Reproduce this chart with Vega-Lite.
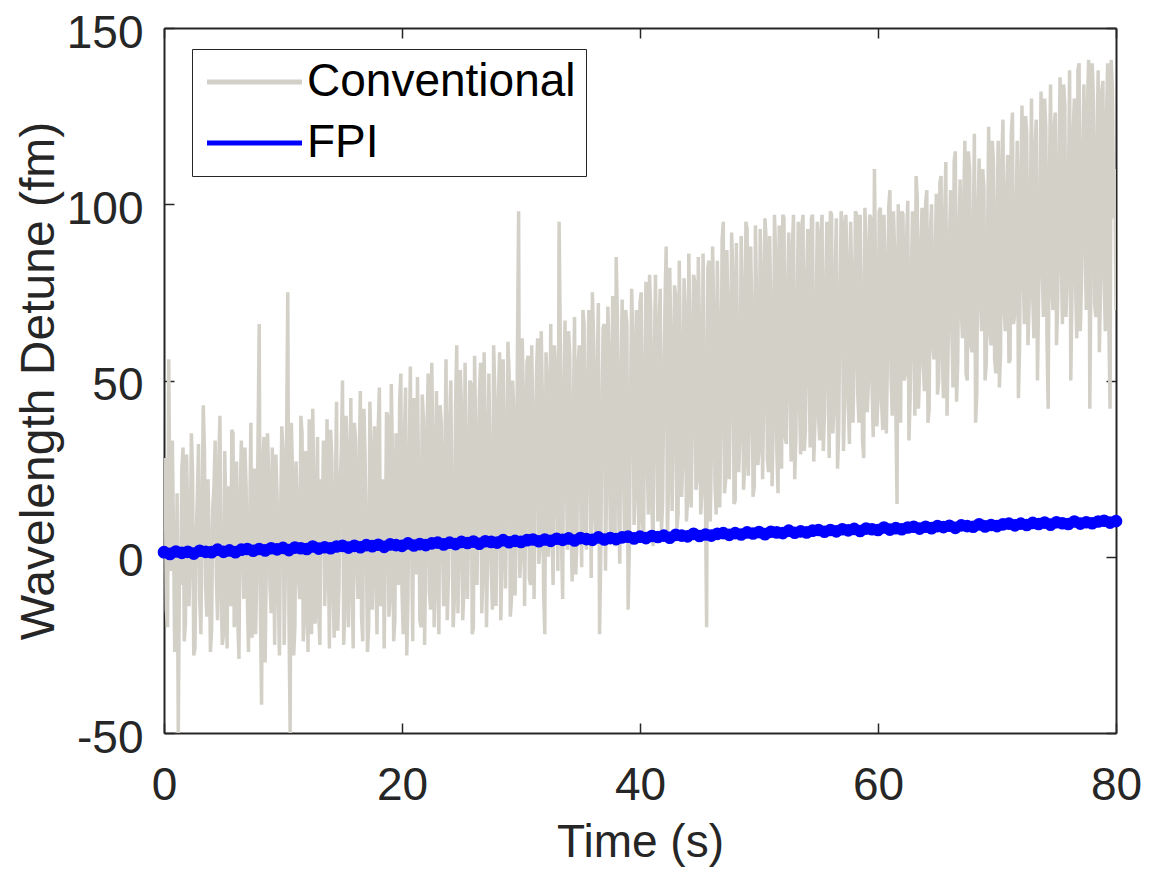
{
"$schema": "https://vega.github.io/schema/vega-lite/v6.json",
"width": 952, "height": 705,
"autosize": {"type": "none"},
"padding": {"left": 164, "top": 28, "right": 36, "bottom": 141},
"background": "white",
"config": {
  "view": {"stroke": null},
  "font": "Liberation Sans",
  "axis": {"labelFont": "Liberation Sans", "titleFont": "Liberation Sans", "labelFontSize": 46, "titleFontSize": 46, "labelColor": "#262626", "titleColor": "#262626", "titleFontWeight": "normal", "grid": false, "domain": true, "domainColor": "#262626", "domainWidth": 2, "tickColor": "#262626", "tickWidth": 1.5, "tickSize": -10, "labelFlush": false, "labelOverlap": false},
  "legend": {"labelFont": "Liberation Sans"}
},
"datasets": {
"conv": [
{"t":0,"v":15},{"t":0.2,"v":-15},{"t":0.4,"v":56},{"t":0.6,"v":-4},{"t":0.8,"v":6},{"t":1,"v":-23},{"t":1.2,"v":-50},{"t":1.4,"v":-8},{"t":1.6,"v":31},{"t":1.8,"v":-19},{"t":2,"v":9},{"t":2.2,"v":0},{"t":2.4,"v":24},{"t":2.6,"v":-26},{"t":2.8,"v":17},{"t":3,"v":-12},{"t":3.2,"v":12},{"t":3.4,"v":30},{"t":3.6,"v":-17},{"t":3.8,"v":4},{"t":4,"v":-21},{"t":4.2,"v":20},{"t":4.4,"v":-6},{"t":4.6,"v":26},{"t":4.8,"v":-10},
{"t":5,"v":-22},{"t":5.2,"v":13},{"t":5.4,"v":20},{"t":5.6,"v":-14},{"t":5.8,"v":35},{"t":6,"v":0},{"t":6.2,"v":-18},{"t":6.4,"v":16},{"t":6.6,"v":4},{"t":6.8,"v":31},{"t":7,"v":-11},{"t":7.2,"v":9},{"t":7.4,"v":-23},{"t":7.6,"v":25},{"t":7.8,"v":-5},{"t":8,"v":66},{"t":8.2,"v":-42},{"t":8.4,"v":34},{"t":8.6,"v":-1},{"t":8.8,"v":23},{"t":9,"v":-16},{"t":9.2,"v":7},{"t":9.4,"v":29},{"t":9.6,"v":-9},{"t":9.8,"v":12},
{"t":10,"v":30},{"t":10.2,"v":-4},{"t":10.4,"v":75},{"t":10.6,"v":-50},{"t":10.8,"v":24},{"t":11,"v":-20},{"t":11.2,"v":13},{"t":11.4,"v":-12},{"t":11.6,"v":35},{"t":11.8,"v":-18},{"t":12,"v":8},{"t":12.2,"v":39},{"t":12.4,"v":-22},{"t":12.6,"v":18},{"t":12.8,"v":3},{"t":13,"v":-16},{"t":13.2,"v":22},{"t":13.4,"v":33},{"t":13.6,"v":-3},{"t":13.8,"v":5},{"t":14,"v":36},{"t":14.2,"v":-10},{"t":14.4,"v":17},{"t":14.6,"v":-21},{"t":14.8,"v":20},
{"t":15,"v":50},{"t":15.2,"v":-15},{"t":15.4,"v":30},{"t":15.6,"v":8},{"t":15.8,"v":-8},{"t":16,"v":38},{"t":16.2,"v":-2},{"t":16.4,"v":25},{"t":16.6,"v":-17},{"t":16.8,"v":42},{"t":17,"v":4},{"t":17.2,"v":-20},{"t":17.4,"v":30},{"t":17.6,"v":15},{"t":17.8,"v":-6},{"t":18,"v":36},{"t":18.2,"v":-14},{"t":18.4,"v":22},{"t":18.6,"v":1},{"t":18.8,"v":40},{"t":19,"v":-12},{"t":19.2,"v":28},{"t":19.4,"v":-18},{"t":19.6,"v":19},{"t":19.8,"v":44},
{"t":20,"v":-10},{"t":20.2,"v":34},{"t":20.4,"v":-28},{"t":20.6,"v":26},{"t":20.8,"v":8},{"t":21,"v":45},{"t":21.2,"v":-5},{"t":21.4,"v":20},{"t":21.6,"v":-20},{"t":21.8,"v":39},{"t":22,"v":2},{"t":22.2,"v":52},{"t":22.4,"v":-15},{"t":22.6,"v":30},{"t":22.8,"v":11},{"t":23,"v":-8},{"t":23.2,"v":43},{"t":23.4,"v":4},{"t":23.6,"v":27},{"t":23.8,"v":-18},{"t":24,"v":38},{"t":24.2,"v":15},{"t":24.4,"v":-12},{"t":24.6,"v":60},{"t":24.8,"v":0},
{"t":25,"v":42},{"t":25.2,"v":-10},{"t":25.4,"v":28},{"t":25.6,"v":8},{"t":25.8,"v":49},{"t":26,"v":-20},{"t":26.2,"v":33},{"t":26.4,"v":14},{"t":26.6,"v":55},{"t":26.8,"v":-6},{"t":27,"v":36},{"t":27.2,"v":2},{"t":27.4,"v":25},{"t":27.6,"v":-15},{"t":27.8,"v":47},{"t":28,"v":10},{"t":28.2,"v":58},{"t":28.4,"v":-2},{"t":28.6,"v":30},{"t":28.8,"v":18},{"t":29,"v":52},{"t":29.2,"v":-12},{"t":29.4,"v":40},{"t":29.6,"v":6},{"t":29.8,"v":98},
{"t":30,"v":0},{"t":30.2,"v":45},{"t":30.4,"v":14},{"t":30.6,"v":57},{"t":30.8,"v":-8},{"t":31,"v":38},{"t":31.2,"v":20},{"t":31.4,"v":62},{"t":31.6,"v":3},{"t":31.8,"v":44},{"t":32,"v":-22},{"t":32.2,"v":50},{"t":32.4,"v":26},{"t":32.6,"v":8},{"t":32.8,"v":60},{"t":33,"v":18},{"t":33.2,"v":95},{"t":33.4,"v":5},{"t":33.6,"v":47},{"t":33.8,"v":28},{"t":34,"v":64},{"t":34.2,"v":10},{"t":34.4,"v":40},{"t":34.6,"v":-5},{"t":34.8,"v":55},
{"t":35,"v":20},{"t":35.2,"v":70},{"t":35.4,"v":8},{"t":35.6,"v":48},{"t":35.8,"v":33},{"t":36,"v":75},{"t":36.2,"v":12},{"t":36.4,"v":53},{"t":36.6,"v":-22},{"t":36.8,"v":40},{"t":37,"v":66},{"t":37.2,"v":22},{"t":37.4,"v":58},{"t":37.6,"v":5},{"t":37.8,"v":45},{"t":38,"v":85},{"t":38.2,"v":15},{"t":38.4,"v":50},{"t":38.6,"v":28},{"t":38.8,"v":70},{"t":39,"v":-15},{"t":39.2,"v":42},{"t":39.4,"v":62},{"t":39.6,"v":18},{"t":39.8,"v":55},
{"t":40,"v":72},{"t":40.2,"v":10},{"t":40.4,"v":48},{"t":40.6,"v":30},{"t":40.8,"v":80},{"t":41,"v":14},{"t":41.2,"v":56},{"t":41.4,"v":38},{"t":41.6,"v":66},{"t":41.8,"v":7},{"t":42,"v":50},{"t":42.2,"v":88},{"t":42.4,"v":20},{"t":42.6,"v":60},{"t":42.8,"v":35},{"t":43,"v":74},{"t":43.2,"v":12},{"t":43.4,"v":55},{"t":43.6,"v":28},{"t":43.8,"v":70},{"t":44,"v":16},{"t":44.2,"v":62},{"t":44.4,"v":40},{"t":44.6,"v":78},{"t":44.8,"v":22},
{"t":45,"v":64},{"t":45.2,"v":18},{"t":45.4,"v":55},{"t":45.6,"v":-20},{"t":45.8,"v":84},{"t":46,"v":30},{"t":46.2,"v":70},{"t":46.4,"v":12},{"t":46.6,"v":60},{"t":46.8,"v":40},{"t":47,"v":95},{"t":47.2,"v":22},{"t":47.4,"v":66},{"t":47.6,"v":48},{"t":47.8,"v":80},{"t":48,"v":16},{"t":48.2,"v":58},{"t":48.4,"v":35},{"t":48.6,"v":76},{"t":48.8,"v":26},{"t":49,"v":93},{"t":49.2,"v":42},{"t":49.4,"v":68},{"t":49.6,"v":20},{"t":49.8,"v":72},
{"t":50,"v":30},{"t":50.2,"v":80},{"t":50.4,"v":45},{"t":50.6,"v":90},{"t":50.8,"v":24},{"t":51,"v":66},{"t":51.2,"v":38},{"t":51.4,"v":86},{"t":51.6,"v":18},{"t":51.8,"v":62},{"t":52,"v":97},{"t":52.2,"v":34},{"t":52.4,"v":75},{"t":52.6,"v":50},{"t":52.8,"v":88},{"t":53,"v":22},{"t":53.2,"v":70},{"t":53.4,"v":44},{"t":53.6,"v":94},{"t":53.8,"v":30},{"t":54,"v":78},{"t":54.2,"v":55},{"t":54.4,"v":96},{"t":54.6,"v":27},{"t":54.8,"v":68},
{"t":55,"v":40},{"t":55.2,"v":92},{"t":55.4,"v":30},{"t":55.6,"v":75},{"t":55.8,"v":52},{"t":56,"v":98},{"t":56.2,"v":35},{"t":56.4,"v":80},{"t":56.6,"v":25},{"t":56.8,"v":70},{"t":57,"v":95},{"t":57.2,"v":45},{"t":57.4,"v":84},{"t":57.6,"v":32},{"t":57.8,"v":77},{"t":58,"v":56},{"t":58.2,"v":97},{"t":58.4,"v":38},{"t":58.6,"v":72},{"t":58.8,"v":28},{"t":59,"v":88},{"t":59.2,"v":50},{"t":59.4,"v":96},{"t":59.6,"v":34},{"t":59.8,"v":79},
{"t":60,"v":45},{"t":60.2,"v":99},{"t":60.4,"v":36},{"t":60.6,"v":82},{"t":60.8,"v":58},{"t":61,"v":104},{"t":61.2,"v":40},{"t":61.4,"v":86},{"t":61.6,"v":15},{"t":61.8,"v":76},{"t":62,"v":98},{"t":62.2,"v":50},{"t":62.4,"v":90},{"t":62.6,"v":33},{"t":62.8,"v":80},{"t":63,"v":62},{"t":63.2,"v":108},{"t":63.4,"v":42},{"t":63.6,"v":88},{"t":63.8,"v":55},{"t":64,"v":100},{"t":64.2,"v":38},{"t":64.4,"v":92},{"t":64.6,"v":60},{"t":64.8,"v":84},
{"t":65,"v":46},{"t":65.2,"v":106},{"t":65.4,"v":58},{"t":65.6,"v":96},{"t":65.8,"v":40},{"t":66,"v":88},{"t":66.2,"v":66},{"t":66.4,"v":112},{"t":66.6,"v":44},{"t":66.8,"v":92},{"t":67,"v":70},{"t":67.2,"v":100},{"t":67.4,"v":52},{"t":67.6,"v":115},{"t":67.8,"v":60},{"t":68,"v":90},{"t":68.2,"v":38},{"t":68.4,"v":98},{"t":68.6,"v":75},{"t":68.8,"v":110},{"t":69,"v":50},{"t":69.2,"v":86},{"t":69.4,"v":64},{"t":69.6,"v":118},{"t":69.8,"v":56},
{"t":70,"v":96},{"t":70.2,"v":48},{"t":70.4,"v":112},{"t":70.6,"v":70},{"t":70.8,"v":102},{"t":71,"v":55},{"t":71.2,"v":120},{"t":71.4,"v":66},{"t":71.6,"v":94},{"t":71.8,"v":45},{"t":72,"v":108},{"t":72.2,"v":80},{"t":72.4,"v":125},{"t":72.6,"v":60},{"t":72.8,"v":100},{"t":73,"v":74},{"t":73.2,"v":116},{"t":73.4,"v":50},{"t":73.6,"v":98},{"t":73.8,"v":82},{"t":74,"v":130},{"t":74.2,"v":62},{"t":74.4,"v":106},{"t":74.6,"v":77},{"t":74.8,"v":122},
{"t":75,"v":60},{"t":75.2,"v":110},{"t":75.4,"v":85},{"t":75.6,"v":134},{"t":75.8,"v":68},{"t":76,"v":104},{"t":76.2,"v":50},{"t":76.4,"v":120},{"t":76.6,"v":78},{"t":76.8,"v":138},{"t":77,"v":64},{"t":77.2,"v":112},{"t":77.4,"v":90},{"t":77.6,"v":128},{"t":77.8,"v":42},{"t":78,"v":140},{"t":78.2,"v":72},{"t":78.4,"v":116},{"t":78.6,"v":58},{"t":78.8,"v":132},{"t":79,"v":80},{"t":79.2,"v":124},{"t":79.4,"v":66},{"t":79.6,"v":141},{"t":79.8,"v":96},{"t":80,"v":70},
{"t":0.1,"v":28},{"t":0.3,"v":-20},{"t":0.5,"v":10},{"t":0.7,"v":33},{"t":0.9,"v":-27},{"t":1.1,"v":18},{"t":1.3,"v":-3},{"t":1.5,"v":25},{"t":1.7,"v":-24},{"t":1.9,"v":29},{"t":2.1,"v":-14},{"t":2.3,"v":35},{"t":2.5,"v":-28},{"t":2.7,"v":5},{"t":2.9,"v":32},{"t":3.1,"v":-22},{"t":3.3,"v":43},{"t":3.5,"v":-9},{"t":3.7,"v":22},{"t":3.9,"v":-27},{"t":4.1,"v":14},{"t":4.3,"v":33},{"t":4.5,"v":-18},{"t":4.7,"v":40},{"t":4.9,"v":-25},
{"t":5.1,"v":30},{"t":5.3,"v":-26},{"t":5.5,"v":8},{"t":5.7,"v":36},{"t":5.9,"v":-20},{"t":6.1,"v":27},{"t":6.3,"v":-29},{"t":6.5,"v":33},{"t":6.7,"v":-12},{"t":6.9,"v":20},{"t":7.1,"v":-27},{"t":7.3,"v":38},{"t":7.5,"v":2},{"t":7.7,"v":-22},{"t":7.9,"v":33},{"t":8.1,"v":-15},{"t":8.3,"v":27},{"t":8.5,"v":-30},{"t":8.7,"v":35},{"t":8.9,"v":-8},{"t":9.1,"v":31},{"t":9.3,"v":-25},{"t":9.5,"v":18},{"t":9.7,"v":-28},{"t":9.9,"v":37},
{"t":10.1,"v":-25},{"t":10.3,"v":32},{"t":10.5,"v":-17},{"t":10.7,"v":38},{"t":10.9,"v":-28},{"t":11.1,"v":27},{"t":11.3,"v":-6},{"t":11.5,"v":40},{"t":11.7,"v":-24},{"t":11.9,"v":30},{"t":12.1,"v":-27},{"t":12.3,"v":15},{"t":12.5,"v":42},{"t":12.7,"v":-19},{"t":12.9,"v":34},{"t":13.1,"v":-25},{"t":13.3,"v":10},{"t":13.5,"v":-14},{"t":13.7,"v":39},{"t":13.9,"v":-26},{"t":14.1,"v":28},{"t":14.3,"v":-23},{"t":14.5,"v":44},{"t":14.7,"v":-9},{"t":14.9,"v":30},
{"t":15.1,"v":-25},{"t":15.3,"v":40},{"t":15.5,"v":-20},{"t":15.7,"v":45},{"t":15.9,"v":-26},{"t":16.1,"v":33},{"t":16.3,"v":-12},{"t":16.5,"v":47},{"t":16.7,"v":-24},{"t":16.9,"v":28},{"t":17.1,"v":-27},{"t":17.3,"v":44},{"t":17.5,"v":-15},{"t":17.7,"v":37},{"t":17.9,"v":-22},{"t":18.1,"v":48},{"t":18.3,"v":0},{"t":18.5,"v":-26},{"t":18.7,"v":41},{"t":18.9,"v":-17},{"t":19.1,"v":49},{"t":19.3,"v":-24},{"t":19.5,"v":35},{"t":19.7,"v":-8},{"t":19.9,"v":52},
{"t":20.1,"v":-22},{"t":20.3,"v":48},{"t":20.5,"v":-12},{"t":20.7,"v":54},{"t":20.9,"v":-24},{"t":21.1,"v":30},{"t":21.3,"v":51},{"t":21.5,"v":-18},{"t":21.7,"v":46},{"t":21.9,"v":-25},{"t":22.1,"v":36},{"t":22.3,"v":-10},{"t":22.5,"v":55},{"t":22.7,"v":-20},{"t":22.9,"v":47},{"t":23.1,"v":-22},{"t":23.3,"v":38},{"t":23.5,"v":-14},{"t":23.7,"v":56},{"t":23.9,"v":-6},{"t":24.1,"v":50},{"t":24.3,"v":-20},{"t":24.5,"v":42},{"t":24.7,"v":-16},{"t":24.9,"v":53},
{"t":25.1,"v":-18},{"t":25.3,"v":55},{"t":25.5,"v":-12},{"t":25.7,"v":50},{"t":25.9,"v":-22},{"t":26.1,"v":57},{"t":26.3,"v":-8},{"t":26.5,"v":45},{"t":26.7,"v":-16},{"t":26.9,"v":58},{"t":27.1,"v":-20},{"t":27.3,"v":52},{"t":27.5,"v":-4},{"t":27.7,"v":60},{"t":27.9,"v":-14},{"t":28.1,"v":44},{"t":28.3,"v":-18},{"t":28.5,"v":56},{"t":28.7,"v":-9},{"t":28.9,"v":61},{"t":29.1,"v":-17},{"t":29.3,"v":50},{"t":29.5,"v":-11},{"t":29.7,"v":58},{"t":29.9,"v":-6},
{"t":30.1,"v":62},{"t":30.3,"v":-14},{"t":30.5,"v":55},{"t":30.7,"v":-6},{"t":30.9,"v":60},{"t":31.1,"v":-12},{"t":31.3,"v":52},{"t":31.5,"v":-2},{"t":31.7,"v":64},{"t":31.9,"v":-10},{"t":32.1,"v":58},{"t":32.3,"v":0},{"t":32.5,"v":66},{"t":32.7,"v":-8},{"t":32.9,"v":54},{"t":33.1,"v":-4},{"t":33.3,"v":63},{"t":33.5,"v":-12},{"t":33.7,"v":67},{"t":33.9,"v":2},{"t":34.1,"v":57},{"t":34.3,"v":-7},{"t":34.5,"v":68},{"t":34.7,"v":4},{"t":34.9,"v":60},
{"t":35.1,"v":-3},{"t":35.3,"v":66},{"t":35.5,"v":2},{"t":35.7,"v":70},{"t":35.9,"v":-6},{"t":36.1,"v":62},{"t":36.3,"v":5},{"t":36.5,"v":72},{"t":36.7,"v":0},{"t":36.9,"v":65},{"t":37.1,"v":-4},{"t":37.3,"v":71},{"t":37.5,"v":8},{"t":37.7,"v":74},{"t":37.9,"v":3},{"t":38.1,"v":68},{"t":38.3,"v":-2},{"t":38.5,"v":73},{"t":38.7,"v":6},{"t":38.9,"v":66},{"t":39.1,"v":2},{"t":39.3,"v":76},{"t":39.5,"v":9},{"t":39.7,"v":70},{"t":39.9,"v":4},
{"t":40.1,"v":75},{"t":40.3,"v":6},{"t":40.5,"v":78},{"t":40.7,"v":12},{"t":40.9,"v":70},{"t":41.1,"v":3},{"t":41.3,"v":80},{"t":41.5,"v":10},{"t":41.7,"v":76},{"t":41.9,"v":15},{"t":42.1,"v":72},{"t":42.3,"v":5},{"t":42.5,"v":82},{"t":42.7,"v":13},{"t":42.9,"v":77},{"t":43.1,"v":8},{"t":43.3,"v":84},{"t":43.5,"v":17},{"t":43.7,"v":79},{"t":43.9,"v":10},{"t":44.1,"v":86},{"t":44.3,"v":14},{"t":44.5,"v":80},{"t":44.7,"v":19},{"t":44.9,"v":85},
{"t":45.1,"v":12},{"t":45.3,"v":86},{"t":45.5,"v":16},{"t":45.7,"v":82},{"t":45.9,"v":10},{"t":46.1,"v":88},{"t":46.3,"v":20},{"t":46.5,"v":84},{"t":46.7,"v":14},{"t":46.9,"v":90},{"t":47.1,"v":18},{"t":47.3,"v":87},{"t":47.5,"v":22},{"t":47.7,"v":92},{"t":47.9,"v":15},{"t":48.1,"v":89},{"t":48.3,"v":24},{"t":48.5,"v":91},{"t":48.7,"v":19},{"t":48.9,"v":95},{"t":49.1,"v":23},{"t":49.3,"v":88},{"t":49.5,"v":17},{"t":49.7,"v":94},{"t":49.9,"v":26},
{"t":50.1,"v":93},{"t":50.3,"v":22},{"t":50.5,"v":96},{"t":50.7,"v":28},{"t":50.9,"v":91},{"t":51.1,"v":20},{"t":51.3,"v":97},{"t":51.5,"v":30},{"t":51.7,"v":94},{"t":51.9,"v":25},{"t":52.1,"v":96},{"t":52.3,"v":32},{"t":52.5,"v":92},{"t":52.7,"v":27},{"t":52.9,"v":97},{"t":53.1,"v":34},{"t":53.3,"v":95},{"t":53.5,"v":29},{"t":53.7,"v":97},{"t":53.9,"v":36},{"t":54.1,"v":93},{"t":54.3,"v":31},{"t":54.5,"v":97},{"t":54.7,"v":38},{"t":54.9,"v":95},
{"t":55.1,"v":33},{"t":55.3,"v":97},{"t":55.5,"v":40},{"t":55.7,"v":95},{"t":55.9,"v":28},{"t":56.1,"v":97},{"t":56.3,"v":42},{"t":56.5,"v":96},{"t":56.7,"v":36},{"t":56.9,"v":98},{"t":57.1,"v":30},{"t":57.3,"v":97},{"t":57.5,"v":44},{"t":57.7,"v":95},{"t":57.9,"v":38},{"t":58.1,"v":98},{"t":58.3,"v":46},{"t":58.5,"v":97},{"t":58.7,"v":33},{"t":58.9,"v":99},{"t":59.1,"v":41},{"t":59.3,"v":97},{"t":59.5,"v":48},{"t":59.7,"v":110},{"t":59.9,"v":37},
{"t":60.1,"v":98},{"t":60.3,"v":44},{"t":60.5,"v":97},{"t":60.7,"v":35},{"t":60.9,"v":99},{"t":61.1,"v":50},{"t":61.3,"v":98},{"t":61.5,"v":42},{"t":61.7,"v":100},{"t":61.9,"v":38},{"t":62.1,"v":97},{"t":62.3,"v":52},{"t":62.5,"v":101},{"t":62.7,"v":45},{"t":62.9,"v":98},{"t":63.1,"v":40},{"t":63.3,"v":102},{"t":63.5,"v":54},{"t":63.7,"v":99},{"t":63.9,"v":47},{"t":64.1,"v":104},{"t":64.3,"v":42},{"t":64.5,"v":100},{"t":64.7,"v":56},{"t":64.9,"v":103},
{"t":65.1,"v":50},{"t":65.3,"v":108},{"t":65.5,"v":45},{"t":65.7,"v":112},{"t":65.9,"v":60},{"t":66.1,"v":104},{"t":66.3,"v":48},{"t":66.5,"v":115},{"t":66.7,"v":55},{"t":66.9,"v":107},{"t":67.1,"v":62},{"t":67.3,"v":118},{"t":67.5,"v":50},{"t":67.7,"v":110},{"t":67.9,"v":58},{"t":68.1,"v":120},{"t":68.3,"v":46},{"t":68.5,"v":113},{"t":68.7,"v":64},{"t":68.9,"v":105},{"t":69.1,"v":55},{"t":69.3,"v":122},{"t":69.5,"v":60},{"t":69.7,"v":112},{"t":69.9,"v":52},
{"t":70.1,"v":118},{"t":70.3,"v":58},{"t":70.5,"v":124},{"t":70.7,"v":64},{"t":70.9,"v":114},{"t":71.1,"v":56},{"t":71.3,"v":126},{"t":71.5,"v":70},{"t":71.7,"v":118},{"t":71.9,"v":60},{"t":72.1,"v":128},{"t":72.3,"v":66},{"t":72.5,"v":120},{"t":72.7,"v":72},{"t":72.9,"v":130},{"t":73.1,"v":62},{"t":73.3,"v":124},{"t":73.5,"v":74},{"t":73.7,"v":132},{"t":73.9,"v":68},{"t":74.1,"v":122},{"t":74.3,"v":42},{"t":74.5,"v":134},{"t":74.7,"v":70},{"t":74.9,"v":126},
{"t":75.1,"v":72},{"t":75.3,"v":136},{"t":75.5,"v":66},{"t":75.7,"v":128},{"t":75.9,"v":80},{"t":76.1,"v":138},{"t":76.3,"v":74},{"t":76.5,"v":130},{"t":76.7,"v":62},{"t":76.9,"v":140},{"t":77.1,"v":78},{"t":77.3,"v":134},{"t":77.5,"v":70},{"t":77.7,"v":141},{"t":77.9,"v":84},{"t":78.1,"v":130},{"t":78.3,"v":68},{"t":78.5,"v":138},{"t":78.7,"v":76},{"t":78.9,"v":135},{"t":79.1,"v":64},{"t":79.3,"v":140},{"t":79.5,"v":42},{"t":79.7,"v":132},{"t":79.9,"v":110}
],
"fpi": [
{"t":0,"v":1.3},{"t":0.5,"v":0.8},{"t":1,"v":1.5},{"t":1.5,"v":1.1},{"t":2,"v":1.4},{"t":2.5,"v":0.9},{"t":3,"v":1.7},{"t":3.5,"v":1.4},{"t":4,"v":1.3},{"t":4.5,"v":2.0},
{"t":5,"v":1.4},{"t":5.5,"v":1.8},{"t":6,"v":1.3},{"t":6.5,"v":2.0},{"t":7,"v":2.2},{"t":7.5,"v":1.7},{"t":8,"v":2.2},{"t":8.5,"v":1.8},{"t":9,"v":2.4},{"t":9.5,"v":2.1},
{"t":10,"v":2.5},{"t":10.5,"v":1.9},{"t":11,"v":2.6},{"t":11.5,"v":2.4},{"t":12,"v":2.2},{"t":12.5,"v":2.9},{"t":13,"v":2.3},{"t":13.5,"v":2.7},{"t":14,"v":2.4},{"t":14.5,"v":2.9},
{"t":15,"v":3.1},{"t":15.5,"v":2.6},{"t":16,"v":3.1},{"t":16.5,"v":2.7},{"t":17,"v":3.3},{"t":17.5,"v":3.0},{"t":18,"v":3.4},{"t":18.5,"v":2.8},{"t":19,"v":3.5},{"t":19.5,"v":3.3},
{"t":20,"v":3.1},{"t":20.5,"v":3.8},{"t":21,"v":3.2},{"t":21.5,"v":3.6},{"t":22,"v":3.3},{"t":22.5,"v":3.8},{"t":23,"v":4.0},{"t":23.5,"v":3.5},{"t":24,"v":4.0},{"t":24.5,"v":3.6},
{"t":25,"v":4.2},{"t":25.5,"v":3.9},{"t":26,"v":4.3},{"t":26.5,"v":3.7},{"t":27,"v":4.4},{"t":27.5,"v":4.2},{"t":28,"v":4.0},{"t":28.5,"v":4.7},{"t":29,"v":4.1},{"t":29.5,"v":4.5},
{"t":30,"v":4.2},{"t":30.5,"v":4.7},{"t":31,"v":4.9},{"t":31.5,"v":4.4},{"t":32,"v":4.9},{"t":32.5,"v":4.5},{"t":33,"v":5.1},{"t":33.5,"v":4.8},{"t":34,"v":5.2},{"t":34.5,"v":4.6},
{"t":35,"v":5.3},{"t":35.5,"v":5.0},{"t":36,"v":4.8},{"t":36.5,"v":5.5},{"t":37,"v":4.9},{"t":37.5,"v":5.3},{"t":38,"v":5.0},{"t":38.5,"v":5.5},{"t":39,"v":5.7},{"t":39.5,"v":5.2},
{"t":40,"v":5.7},{"t":40.5,"v":5.3},{"t":41,"v":5.9},{"t":41.5,"v":5.6},{"t":42,"v":6.0},{"t":42.5,"v":5.4},{"t":43,"v":6.2},{"t":43.5,"v":6.0},{"t":44,"v":5.8},{"t":44.5,"v":6.5},
{"t":45,"v":5.9},{"t":45.5,"v":6.3},{"t":46,"v":6.0},{"t":46.5,"v":6.5},{"t":47,"v":6.7},{"t":47.5,"v":6.2},{"t":48,"v":6.7},{"t":48.5,"v":6.3},{"t":49,"v":6.9},{"t":49.5,"v":6.6},
{"t":50,"v":7.0},{"t":50.5,"v":6.4},{"t":51,"v":7.1},{"t":51.5,"v":6.9},{"t":52,"v":6.7},{"t":52.5,"v":7.4},{"t":53,"v":6.8},{"t":53.5,"v":7.2},{"t":54,"v":6.9},{"t":54.5,"v":7.4},
{"t":55,"v":7.6},{"t":55.5,"v":7.1},{"t":56,"v":7.6},{"t":56.5,"v":7.2},{"t":57,"v":7.8},{"t":57.5,"v":7.5},{"t":58,"v":7.9},{"t":58.5,"v":7.3},{"t":59,"v":8.0},{"t":59.5,"v":7.8},
{"t":60,"v":7.6},{"t":60.5,"v":8.3},{"t":61,"v":7.7},{"t":61.5,"v":8.1},{"t":62,"v":7.8},{"t":62.5,"v":8.3},{"t":63,"v":8.5},{"t":63.5,"v":8.0},{"t":64,"v":8.5},{"t":64.5,"v":8.1},
{"t":65,"v":8.7},{"t":65.5,"v":8.4},{"t":66,"v":8.8},{"t":66.5,"v":8.2},{"t":67,"v":8.9},{"t":67.5,"v":8.7},{"t":68,"v":8.5},{"t":68.5,"v":9.2},{"t":69,"v":8.6},{"t":69.5,"v":9.0},
{"t":70,"v":8.7},{"t":70.5,"v":9.2},{"t":71,"v":9.4},{"t":71.5,"v":8.9},{"t":72,"v":9.4},{"t":72.5,"v":9.0},{"t":73,"v":9.6},{"t":73.5,"v":9.3},{"t":74,"v":9.7},{"t":74.5,"v":9.1},
{"t":75,"v":9.8},{"t":75.5,"v":9.5},{"t":76,"v":9.3},{"t":76.5,"v":10.0},{"t":77,"v":9.4},{"t":77.5,"v":9.8},{"t":78,"v":9.5},{"t":78.5,"v":10.0},{"t":79,"v":10.2},{"t":79.5,"v":9.7},{"t":80,"v":10.1}
]
},
"layer": [
  {
    "data": {"name": "conv"},
    "mark": {"type": "line", "strokeWidth": 3.5, "strokeJoin": "bevel", "clip": true},
    "encoding": {
      "x": {"field": "t", "type": "quantitative", "scale": {"domain": [0, 80], "nice": false, "zero": false},
            "axis": {"orient": "bottom", "values": [0, 20, 40, 60, 80], "title": "Time (s)", "labelPadding": 40, "titlePadding": 12}},
      "y": {"field": "v", "type": "quantitative", "scale": {"domain": [-50, 150], "nice": false, "zero": false},
            "axis": {"orient": "left", "values": [-50, 0, 50, 100, 150], "labelExpr": "'' + datum.value", "title": "Wavelength Detune (fm)", "titleFontSize": 48, "labelPadding": 31, "labelOffset": 5, "titlePadding": 3}},
      "color": {"datum": "Conventional", "type": "nominal",
        "scale": {"domain": ["Conventional", "FPI"], "range": ["#D3D0C8", "#0000FF"]},
        "legend": {"orient": "none", "legendX": 28, "legendY": 21, "title": null,
          "symbolType": "M-1.8,0H7.7", "symbolSize": 400, "symbolStrokeWidth": 5,
          "labelFontSize": 46, "labelColor": "#000000", "labelOffset": 59, "labelLimit": 0,
          "strokeColor": "#262626", "fillColor": "white", "padding": 10, "rowPadding": 15, "cornerRadius": 0}}
    }
  },
  {
    "data": {"name": "fpi"},
    "mark": {"type": "line", "strokeWidth": 5},
    "encoding": {
      "x": {"field": "t", "type": "quantitative", "axis": null},
      "y": {"field": "v", "type": "quantitative", "axis": null},
      "color": {"datum": "FPI", "type": "nominal"}
    }
  },
  {
    "data": {"name": "fpi"},
    "mark": {"type": "point", "filled": true, "size": 160, "opacity": 1},
    "encoding": {
      "x": {"field": "t", "type": "quantitative", "axis": null},
      "y": {"field": "v", "type": "quantitative", "axis": null},
      "color": {"datum": "FPI", "type": "nominal"}
    }
  },
  {
    "data": {"name": "fpi"},
    "mark": {"type": "point", "opacity": 0},
    "encoding": {
      "x": {"field": "t", "type": "quantitative", "axis": {"orient": "top", "values": [0, 20, 40, 60, 80], "labels": false, "title": null}},
      "y": {"field": "v", "type": "quantitative", "axis": {"orient": "right", "values": [-50, 0, 50, 100, 150], "labels": false, "title": null}}
    }
  }
],
"resolve": {"axis": {"x": "independent", "y": "independent"}}
}
